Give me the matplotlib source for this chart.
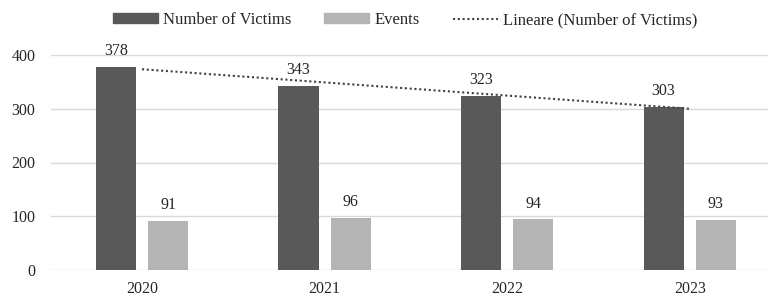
import numpy as np
import matplotlib
matplotlib.use("Agg")
import matplotlib.pyplot as plt
from matplotlib.lines import Line2D
from matplotlib.patches import Patch

years = ["2020", "2021", "2022", "2023"]
victims = [378, 343, 323, 303]
events = [91, 96, 94, 93]

plt.rcParams['font.family'] = ['Liberation Serif', 'DejaVu Serif']
TEXT = '#262626'
DARK = '#595959'
LIGHT = '#b4b4b4'

W, H = 768, 297
fig = plt.figure(figsize=(W / 100, H / 100), dpi=100)
left = 50.7 / W
bottom = (H - 270) / H
height = 215 / H
ax = fig.add_axes([left, bottom, 1 - left, height])

x = np.arange(len(years))
bw = 0.22
off = 0.143
b1 = ax.bar(x - off, victims, bw, color=DARK, zorder=3)
b2 = ax.bar(x + off, events, bw, color=LIGHT, zorder=3)

coef = np.polyfit(x, victims, 1)
trend = np.polyval(coef, x)
ax.plot(x, trend, linestyle=(0, (1, 1.3)), color='#404040', lw=1.5, zorder=4)

for bars, vals in ((b1, victims), (b2, events)):
    for r, v in zip(bars, vals):
        ax.annotate(str(v), (r.get_x() + r.get_width() / 2, v), xytext=(0, 11.5),
                    textcoords='offset points', ha='center', va='center',
                    fontsize=11.5, color=TEXT)

span = 781 - 50.7
cat = span / 4
ax.set_xlim(-0.5, -0.5 + (W - 50.7) / cat)
ax.set_ylim(0, 400)
ax.set_yticks([0, 100, 200, 300, 400])
ax.set_xticks(x)
ax.set_xticklabels(years)
ax.tick_params(axis='both', length=0, labelsize=11.5, labelcolor=TEXT)
ax.tick_params(axis='y', pad=11)
ax.tick_params(axis='x', pad=8)
ax.grid(axis='y', color='#d9d9d9', lw=1, zorder=0)
for s in ax.spines.values():
    s.set_visible(False)

handles = [Patch(color=DARK), Patch(color=LIGHT),
           Line2D([0], [0], linestyle=(0, (1, 1.3)), color='#404040', lw=1.5)]
labels = ["Number of Victims", "Events", "Lineare (Number of Victims)"]
fig.legend(handles, labels, loc='center', bbox_to_anchor=(405 / W, 1 - 20 / H),
           ncol=3, frameon=False, fontsize=12, handlelength=2.7, handleheight=0.5,
           columnspacing=2.0, handletextpad=0.3, labelcolor=TEXT)

fig.savefig("out.png", dpi=100)
